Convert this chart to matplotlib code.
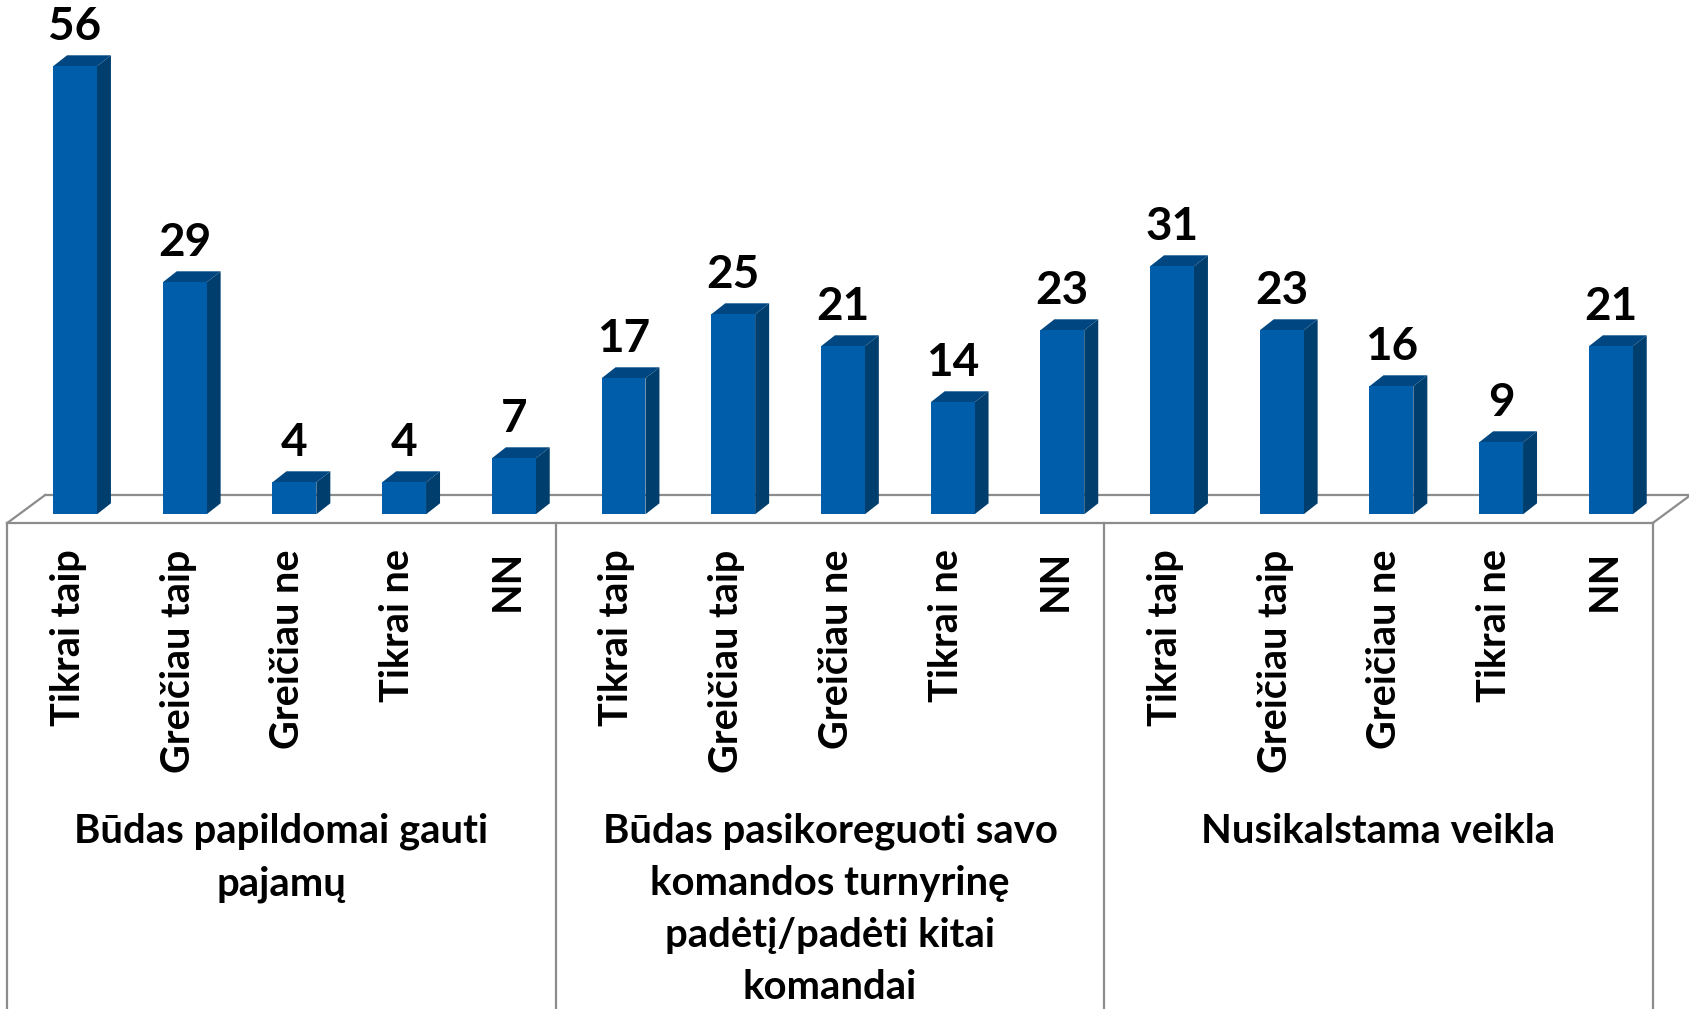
import matplotlib
matplotlib.use("Agg")
import matplotlib.pyplot as plt
from matplotlib.patches import Polygon

# ---- data ----
groups = [
    "Būdas papildomai gauti\npajamų",
    "Būdas pasikoreguoti savo\nkomandos turnyrinę\npadėtį/padėti kitai\nkomandai",
    "Nusikalstama veikla",
]
answers = ["Tikrai taip", "Greičiau taip", "Greičiau ne", "Tikrai ne", "NN"]
values_g1 = [56, 29, 4, 4, 7]
values_g2 = [17, 25, 21, 14, 23]
values_g3 = [31, 23, 16, 9, 21]

values = values_g1 + values_g2 + values_g3
labels = answers * 3
n = len(values)
xs = list(range(n))

FONT = ["Lato", "DejaVu Sans"]
FRONT = "#005DA9"
SIDE = "#003E6E"
TOP = "#004680"
GRID = "#8C8C8C"

W, H = 1690, 1009
fig = plt.figure(figsize=(W / 100, H / 100), dpi=100)
ax = fig.add_axes([0, 0, 1, 1])
px_x = 109.7   # pixels per category
px_y = 8.0     # pixels per unit
x0_px, y0_px = 75.0, 514.3
ax.set_xlim(-x0_px / px_x, (W - x0_px) / px_x)
ax.set_ylim(-(H - y0_px) / px_y, y0_px / px_y)
ax.axis("off")

# geometry in data units
bw = 0.40
ddx = 14 / px_x
ddy = 11 / px_y
f_front_dx, f_back_dx = -0.118, 0.228
f_front_y, f_back_y = -1.09, 2.41

# floor
left, right = -0.5, n - 0.5
ax.plot([left + f_back_dx, right + f_back_dx], [f_back_y, f_back_y], color=GRID, lw=1.6, zorder=1)
ax.plot([left + f_front_dx, right + f_front_dx], [f_front_y, f_front_y], color=GRID, lw=1.6, zorder=1)
ax.plot([left + f_front_dx, left + f_back_dx], [f_front_y, f_back_y], color=GRID, lw=1.6, zorder=1)
ax.plot([right + f_front_dx, right + f_back_dx], [f_front_y, f_back_y], color=GRID, lw=1.6, zorder=1)

# group divider lines
ybot = ax.get_ylim()[0]
gsize = len(answers)
for k in range(len(groups) + 1):
    xb = k * gsize - 0.5 + f_front_dx
    ax.plot([xb, xb], [f_front_y, ybot], color=GRID, lw=1.6, zorder=1)

# bars
ax.bar(xs, values, width=bw, color=FRONT, edgecolor="none", zorder=3)
for x, v in zip(xs, values):
    xr = x + bw / 2
    xl = x - bw / 2
    side = Polygon([(xr, 0), (xr + ddx, ddy), (xr + ddx, v + ddy), (xr, v)],
                   closed=True, facecolor=SIDE, edgecolor="none", zorder=2)
    top = Polygon([(xl, v), (xl + ddx, v + ddy), (xr + ddx, v + ddy), (xr, v)],
                  closed=True, facecolor=TOP, edgecolor="none", zorder=2)
    ax.add_patch(side)
    ax.add_patch(top)
    ax.text(x, v + 3.25, str(v), ha="center", va="baseline",
            fontsize=33, fontweight="bold", family=FONT, color="black")

# category labels
for x, lab in zip(xs, labels):
    ax.text(x - 0.06, -4.4, lab, rotation=90, ha="center", va="top",
            fontsize=28.5, fontweight="bold", family=FONT, color="black")

# group labels
for k, g in enumerate(groups):
    cx = k * gsize + (gsize - 1) / 2 + f_front_dx
    ax.text(cx, -37.3, g, ha="center", va="top", multialignment="center",
            fontsize=28.8, fontweight="bold", family=FONT, color="black",
            linespacing=1.5)

fig.savefig("out.png", dpi=100, facecolor="white")
